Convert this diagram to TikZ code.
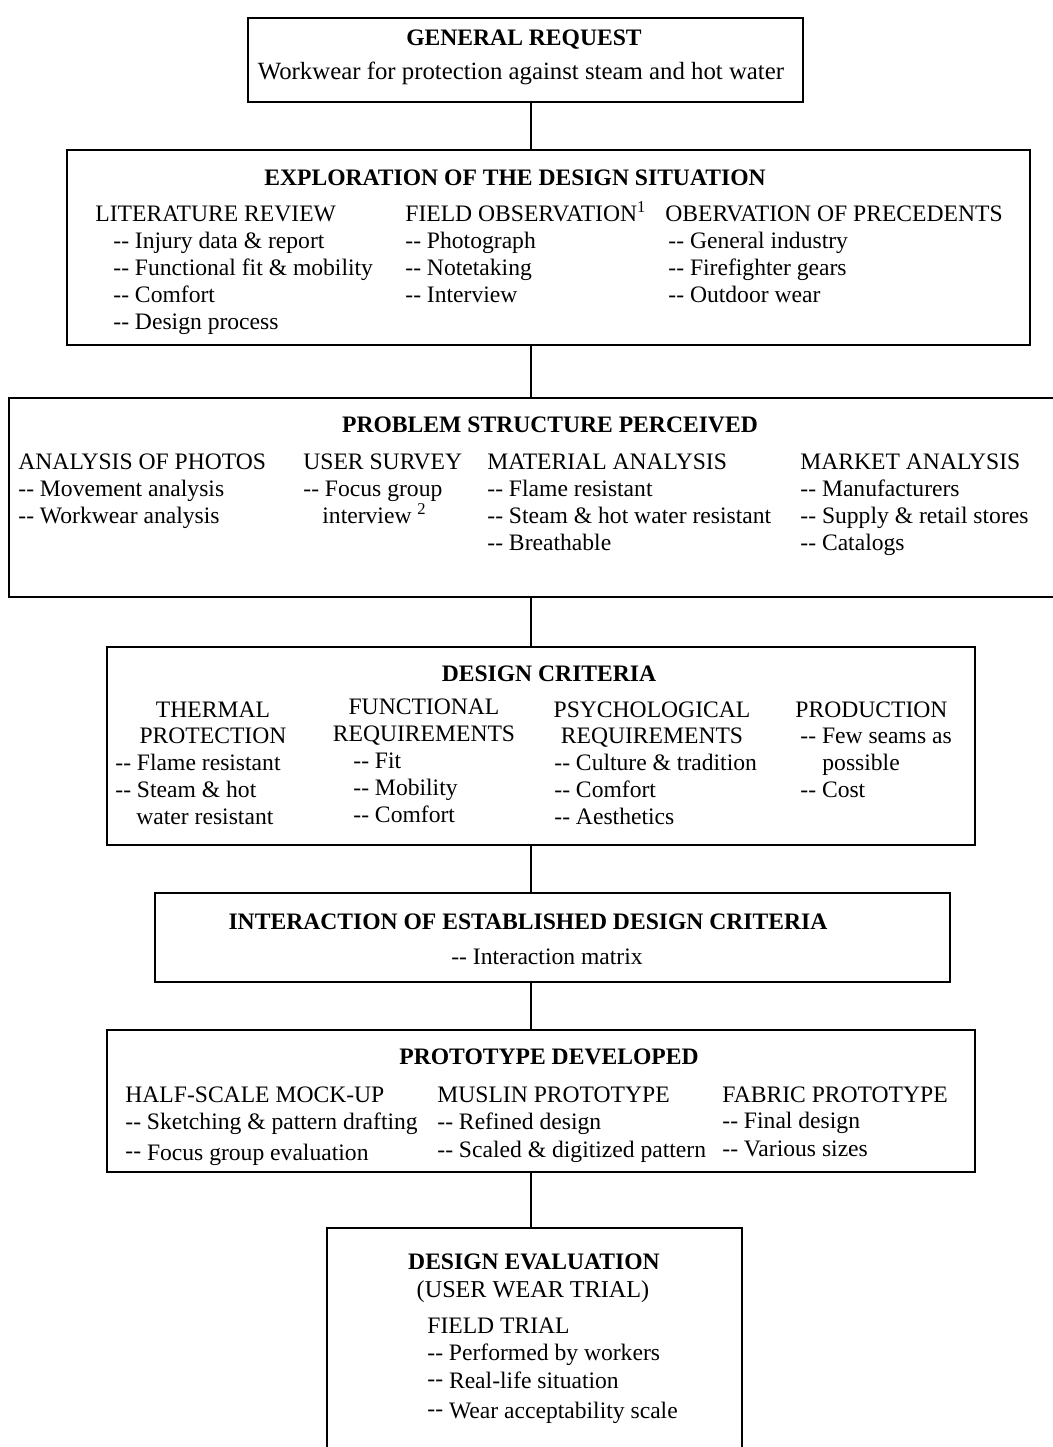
\documentclass[tikz,border=0pt]{standalone}
\usepackage{fontspec}
\setmainfont{Liberation Serif}
\usetikzlibrary{fit}
\newcommand\dd{-\kern0pt-}
\newcommand\rdd{\raisebox{1pt}{\dd}}
\tikzset{
  x=0.5pt, y=-0.5pt,
  box/.style={draw=black, line width=0.8pt, inner sep=0pt, fit={#1}},
  txt/.style={anchor=base west, inner sep=0pt, font=\fontsize{11.8}{13}\selectfont},
  ctxt/.style={anchor=base, inner sep=0pt, font=\fontsize{11.8}{13}\selectfont},
  ttl/.style={anchor=base, inner sep=0pt, font=\fontsize{11.8}{13}\selectfont\bfseries},
  link/.style={draw=black, line width=0.8pt}
}
\begin{document}
\begin{tikzpicture}
\useasboundingbox (0,0) rectangle (1053,1447);
\coordinate (axis) at (531,0);
% boxes
\node[box={(248,18) (803,102)}] (b1) {};
\node[box={(67,150) (1030,345)}] (b2) {};
\node[box={(9,398) (1062,597)}] (b3) {};
\node[box={(107,647) (975,845)}] (b4) {};
\node[box={(155,893) (950,982)}] (b5) {};
\node[box={(107,1030) (975,1172)}] (b6) {};
\node[box={(327,1228) (742,1462)}] (b7) {};
% connectors
\draw[link] (b1.south -| axis) -- (b2.north -| axis);
\draw[link] (b2.south -| axis) -- (b3.north -| axis);
\draw[link] (b3.south -| axis) -- (b4.north -| axis);
\draw[link] (b4.south -| axis) -- (b5.north -| axis);
\draw[link] (b5.south -| axis) -- (b6.north -| axis);
\draw[link] (b6.south -| axis) -- (b7.north -| axis);
% box 1
\node[ttl] (t1) at (524,45) {GENERAL REQUEST};
\node[ctxt, font=\fontsize{12.4}{13}\selectfont] (s1) at (521,79) {Workwear for protection against steam and hot water};
% box 2
\node[ttl] (t2) at (515,185) {EXPLORATION OF THE DESIGN SITUATION};
\node[txt] (h21) at (95,221) {LITERATURE REVIEW};
\node[txt] (h22) at (405,221) {FIELD OBSERVATION\textsuperscript{1}};
\node[txt] (h23) at (665,221) {OBERVATION OF PRECEDENTS};
\foreach \t [count=\i] in {{Injury data \& report},{Functional fit \& mobility},{Comfort},{Design process}}
  \node[txt] (lit\i) at (113,{221+27*\i}) {\dd\ \t};
\foreach \t [count=\i] in {{Photograph},{Notetaking},{Interview}}
  \node[txt] (fo\i) at (405,{221+27*\i}) {\dd\ \t};
\foreach \t [count=\i] in {{General industry},{Firefighter gears},{Outdoor wear}}
  \node[txt] (op\i) at (668,{221+27*\i}) {\dd\ \t};
% box 3
\node[ttl] (t3) at (550,432) {PROBLEM STRUCTURE PERCEIVED};
\node[txt] (h31) at (18,469) {ANALYSIS OF PHOTOS};
\node[txt] (h32) at (303,469) {USER SURVEY};
\node[txt] (h33) at (487,469) {MATERIAL ANALYSIS};
\node[txt] (h34) at (800,469) {MARKET ANALYSIS};
\foreach \t [count=\i] in {{Movement analysis},{Workwear analysis}}
  \node[txt] (ap\i) at (18,{469+27*\i}) {\dd\ \t};
\node[txt] (us1) at (303,496) {\dd\ Focus group};
\node[txt] (us2) at (322,523) {interview \textsuperscript{2}};
\foreach \t [count=\i] in {{Flame resistant},{Steam \& hot water resistant},{Breathable}}
  \node[txt] (ma\i) at (487,{469+27*\i}) {\dd\ \t};
\foreach \t [count=\i] in {{Manufacturers},{Supply \& retail stores},{Catalogs}}
  \node[txt] (mk\i) at (800,{469+27*\i}) {\dd\ \t};
% box 4
\node[ttl] (t4) at (549,681) {DESIGN CRITERIA};
\node[ctxt] (h41a) at (213,717) {THERMAL};
\node[ctxt] (h41b) at (213,743) {PROTECTION};
\node[txt] (th1) at (115,770) {\dd\ Flame resistant};
\node[txt] (th2) at (115,797) {\dd\ Steam \& hot};
\node[txt] (th3) at (136,824) {water resistant};
\node[ctxt] (h42a) at (424,714) {FUNCTIONAL};
\node[ctxt] (h42b) at (424,741) {REQUIREMENTS};
\foreach \t [count=\i] in {{Fit},{Mobility},{Comfort}}
  \node[txt] (fr\i) at (353,{741+27*\i}) {\dd\ \t};
\node[ctxt] (h43a) at (652,717) {PSYCHOLOGICAL};
\node[ctxt] (h43b) at (652,743) {REQUIREMENTS};
\foreach \t [count=\i] in {{Culture \& tradition},{Comfort},{Aesthetics}}
  \node[txt] (pr\i) at (554,{743+27*\i}) {\dd\ \t};
\node[txt] (h44) at (795,717) {PRODUCTION};
\node[txt] (pd1) at (800,743) {\dd\ Few seams as};
\node[txt] (pd2) at (822,770) {possible};
\node[txt] (pd3) at (800,797) {\dd\ Cost};
% box 5
\node[ttl] (t5) at (528,929) {INTERACTION OF ESTABLISHED DESIGN CRITERIA};
\node[ctxt] (s5) at (547,964) {\dd\ Interaction matrix};
% box 6
\node[ttl] (t6) at (549,1064) {PROTOTYPE DEVELOPED};
\node[txt] (h61) at (125,1102) {HALF-SCALE MOCK-UP};
\node[txt] (h62) at (437,1102) {MUSLIN PROTOTYPE};
\node[txt] (h63) at (722,1102) {FABRIC PROTOTYPE};
\node[txt] (hs1) at (125,1129) {\dd\ Sketching \& pattern drafting};
\node[txt] (hs2) at (125,1160) {\rdd\ Focus group evaluation};
\node[txt] (mu1) at (437,1129) {\dd\ Refined design};
\node[txt] (mu2) at (437,1157) {\dd\ Scaled \& digitized pattern};
\node[txt] (fa1) at (722,1128) {\dd\ Final design};
\node[txt] (fa2) at (722,1156) {\dd\ Various sizes};
% box 7
\node[ttl] (t7) at (534,1269) {DESIGN EVALUATION};
\node[ctxt, font=\fontsize{12.1}{13}\selectfont] (s7) at (533,1297) {(USER WEAR TRIAL)};
\node[txt] (h71) at (427,1333) {FIELD TRIAL};
\node[txt] (ft1) at (427,1360) {\dd\ Performed by workers};
\node[txt] (ft2) at (427,1388) {\rdd\ Real-life situation};
\node[txt] (ft3) at (427,1418) {\rdd\ Wear acceptability scale};
\end{tikzpicture}
\end{document}
